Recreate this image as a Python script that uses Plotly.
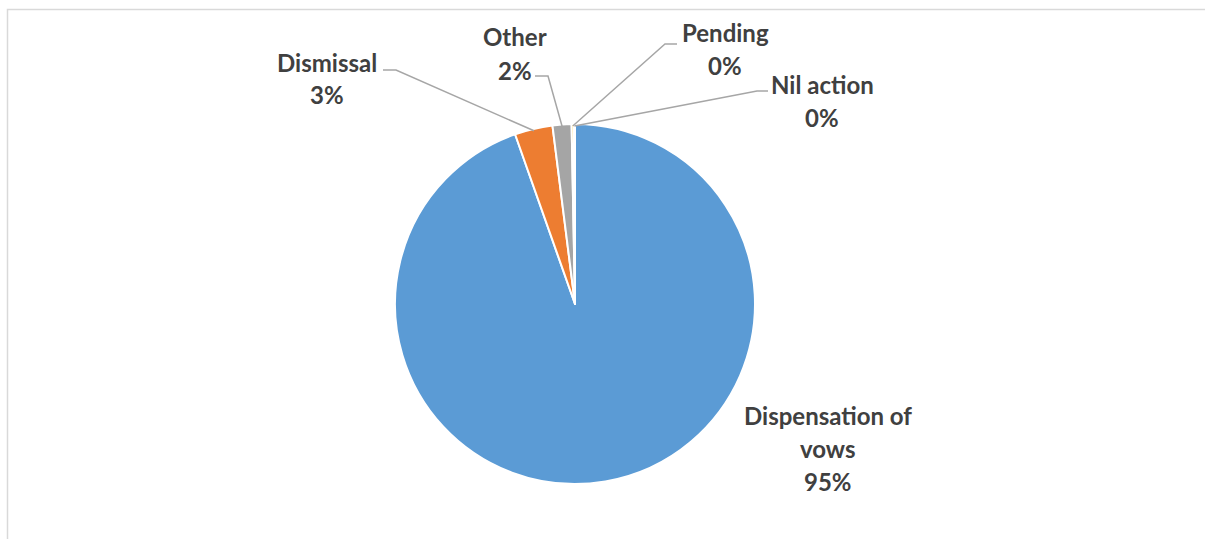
import math
import plotly.graph_objects as go

# ---- data ----
categories = ["Dispensation of vows", "Dismissal", "Other", "Pending", "Nil action"]
values = [94.6, 3.4, 1.7, 0.2, 0.1]
colors = ["#5B9BD5", "#ED7D31", "#A5A5A5", "#FFC000", "#4472C4"]
label_lines = [["Dispensation of", "vows"], ["Dismissal"], ["Other"], ["Pending"], ["Nil action"]]

# ---- layout constants (pixels) ----
W, H = 1205, 539
CX, CY, R = 575, 304, 180
LINE_GAP = 33
# label text centre (x, y of first line) and leader-line elbow / start points
label_pos = [(828, 415), (327, 62), (515, 37), (725, 32), (822, 84)]
leaders = [None, [(383, 70), (396, 70)], [(535, 76), (548, 76)],
           [(677, 44), (665, 44)], [(768, 91), (757, 91)]]

def px(x):
    return x / W

def py(y):
    return 1 - y / H

fig = go.Figure()
fig.add_trace(go.Pie(
    labels=categories, values=values, sort=False, direction="clockwise", rotation=0,
    marker=dict(colors=colors, line=dict(color="white", width=2)),
    textinfo="none", hoverinfo="label+percent", showlegend=False,
    domain=dict(x=[px(CX - R), px(CX + R)], y=[py(CY + R), py(CY - R)]),
))

total = sum(values)
cum = 0
annotations = []
shapes = []
for i, v in enumerate(values):
    mid = 2 * math.pi * (cum + v / 2) / total
    cum += v
    pct = f"{round(100 * v / total)}%"
    lines = label_lines[i] + [pct]
    lx, ly = label_pos[i]
    for j, t in enumerate(lines):
        annotations.append(dict(
            x=px(lx), y=py(ly + j * LINE_GAP), xref="paper", yref="paper",
            text=f"<b>{t}</b>", showarrow=False, xanchor="center", yanchor="middle",
            font=dict(family="Lato", size=24, color="#404040"),
        ))
    if leaders[i]:
        ex = CX + (R - 2) * math.sin(mid)
        ey = CY - (R - 2) * math.cos(mid)
        (x0, y0), (x1, y1) = leaders[i]
        shapes.append(dict(
            type="path", xref="paper", yref="paper",
            path=f"M {px(x0)},{py(y0)} L {px(x1)},{py(y1)} L {px(ex)},{py(ey)}",
            line=dict(color="#A6A6A6", width=1.5),
        ))

# chart frame
shapes.append(dict(type="rect", xref="paper", yref="paper",
                   x0=px(7.5), y0=py(545), x1=px(1210), y1=py(9.5),
                   line=dict(color="#D9D9D9", width=1.5), fillcolor="rgba(0,0,0,0)"))

fig.update_layout(
    width=W, height=H, margin=dict(l=0, r=0, t=0, b=0),
    paper_bgcolor="white", plot_bgcolor="white",
    annotations=annotations, shapes=shapes,
)
fig.write_html("out.html", config={"displayModeBar": False},
               post_script="document.body.style.margin='0';document.body.style.overflow='hidden';")
